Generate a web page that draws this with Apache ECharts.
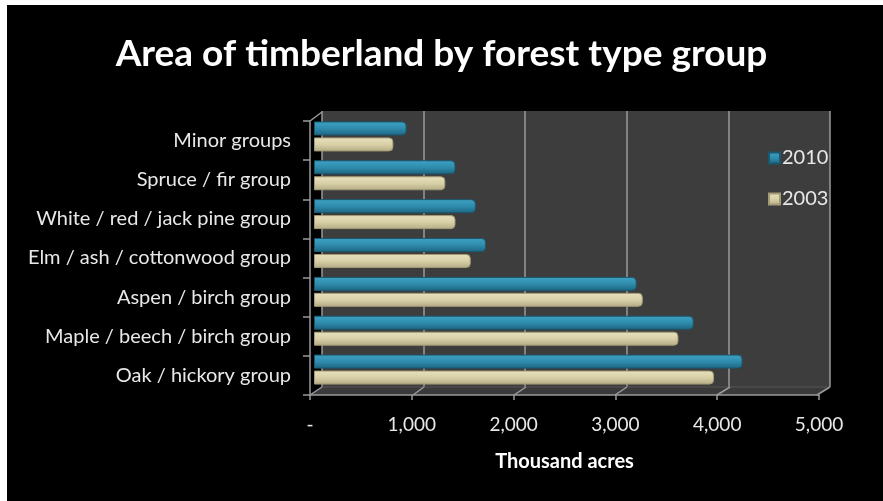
<!DOCTYPE html>
<html>
<head>
<meta charset="utf-8">
<script src="https://cdn.jsdelivr.net/npm/echarts@6/dist/echarts.min.js"></script>
<style>
html,body{margin:0;padding:0;background:#fff;}
#chart{width:883px;height:501px;}
</style>
</head>
<body>
<div id="chart"></div>
<script>
const categories = ['Minor groups','Spruce / fir group','White / red / jack pine group','Elm / ash / cottonwood group','Aspen / birch group','Maple / beech / birch group','Oak / hickory group'];
const values2010 = [910, 1390, 1590, 1690, 3170, 3730, 4210];
const values2003 = [780, 1290, 1390, 1540, 3230, 3580, 3930];
const seriesNames = ['2010', '2003'];
const xTickLabels = ['-', '1,000', '2,000', '3,000', '4,000', '5,000'];

const chart = echarts.init(document.getElementById('chart'), null, {renderer: 'canvas'});

const teal = new echarts.graphic.LinearGradient(0, 0, 0, 1, [
  {offset: 0, color: '#3fa3c4'},
  {offset: 0.5, color: '#2f8cad'},
  {offset: 1, color: '#1c6580'}
]);
const beige = new echarts.graphic.LinearGradient(0, 0, 0, 1, [
  {offset: 0, color: '#e8e1bd'},
  {offset: 0.5, color: '#d8d0a7'},
  {offset: 1, color: '#b3ab84'}
]);

const lineCol = '#9a9a9a';
const floorFront = [310, 413, 514, 615, 717, 817];
const floorBack = [322, 424, 526, 627, 730, 830];
const floorLines = floorFront.map((fx, i) => ({
  type: 'line', z: 1, silent: true,
  shape: {x1: fx, y1: 395, x2: floorBack[i], y2: 387},
  style: {stroke: lineCol, lineWidth: 1.5}
}));

const option = {
  backgroundColor: '#ffffff',
  animation: false,
  title: {
    text: 'Area of timberland by forest type group',
    left: 'center',
    top: 31,
    textStyle: {color: '#ffffff', fontFamily: 'Lato', fontWeight: 'bold', fontSize: 37}
  },
  legend: {
    orient: 'vertical',
    left: 763,
    top: 143,
    itemWidth: 11,
    itemHeight: 11,
    itemGap: 21,
    icon: 'rect',
    textStyle: {color: '#e8e8e8', fontFamily: 'Lato', fontSize: 20, lineHeight: 20, padding: [0,0,0,-3]},
    data: seriesNames
  },
  graphic: [
    {type: 'rect', z: -10, silent: true, shape: {x: 7, y: 5, width: 876, height: 496}, style: {fill: '#000000'}},
    {type: 'polygon', z: 0, silent: true, shape: {points: [[310,395],[817,395],[830,387],[322,387]]}, style: {fill: '#3a3a3a'}},
    {type: 'line', z: 1, silent: true, shape: {x1: 310, y1: 121, x2: 322, y2: 112}, style: {stroke: lineCol, lineWidth: 1.5}},
    {type: 'line', z: 1, silent: true, shape: {x1: 322, y1: 387, x2: 830, y2: 387}, style: {stroke: '#555555', lineWidth: 1}}
  ].concat(floorLines),
  grid: [
    {left: 322, right: 53, top: 111, bottom: 114, show: true, backgroundColor: '#3d3d3d', borderWidth: 0, z: 0},
    {left: 314, right: 60, top: 117, bottom: 112},
    {left: 310, right: 64, top: 121, bottom: 106}
  ],
  xAxis: [
    {gridIndex: 0, type: 'value', min: 0, max: 5000, interval: 1000,
     axisLine: {show: false}, axisTick: {show: false}, axisLabel: {show: false},
     splitLine: {show: true, lineStyle: {color: lineCol, width: 1.5}}},
    {gridIndex: 1, type: 'value', min: 0, max: 5000, interval: 1000, show: false},
    {gridIndex: 2, type: 'value', min: 0, max: 5000, interval: 1000,
     axisLine: {show: true, lineStyle: {color: lineCol, width: 1.5}},
     axisTick: {show: true, length: 5, lineStyle: {color: lineCol, width: 1.5}},
     splitLine: {show: false},
     axisLabel: {color: '#e8e8e8', fontFamily: 'Lato', fontSize: 19, margin: 20,
       formatter: v => xTickLabels[Math.round(v / 1000)]},
     name: 'Thousand acres', nameLocation: 'middle', nameGap: 57,
     nameTextStyle: {color: '#ffffff', fontFamily: 'Lato', fontWeight: 'bold', fontSize: 20}}
  ],
  yAxis: [
    {gridIndex: 0, type: 'value', show: false},
    {gridIndex: 1, type: 'category', data: categories, inverse: true, show: false},
    {gridIndex: 2, type: 'category', data: categories, inverse: true,
     axisLine: {show: true, lineStyle: {color: lineCol, width: 1.5}},
     axisTick: {show: true, length: 7, lineStyle: {color: lineCol, width: 1.5}},
     splitLine: {show: false},
     axisLabel: {color: '#e8e8e8', fontFamily: 'Lato', fontSize: 20, margin: 19}}
  ],
  series: [
    {name: seriesNames[0], type: 'bar', xAxisIndex: 1, yAxisIndex: 1, data: values2010,
     barWidth: 14, barGap: '14%', z: 3,
     itemStyle: {color: teal, borderColor: '#1a5870', borderWidth: 1, borderRadius: [0, 4, 4, 0]}},
    {name: seriesNames[1], type: 'bar', xAxisIndex: 1, yAxisIndex: 1, data: values2003,
     barWidth: 14, barGap: '14%', z: 3,
     itemStyle: {color: beige, borderColor: '#a39b76', borderWidth: 1, borderRadius: [0, 4, 4, 0]}}
  ]
};
chart.setOption(option);
</script>
</body>
</html>
